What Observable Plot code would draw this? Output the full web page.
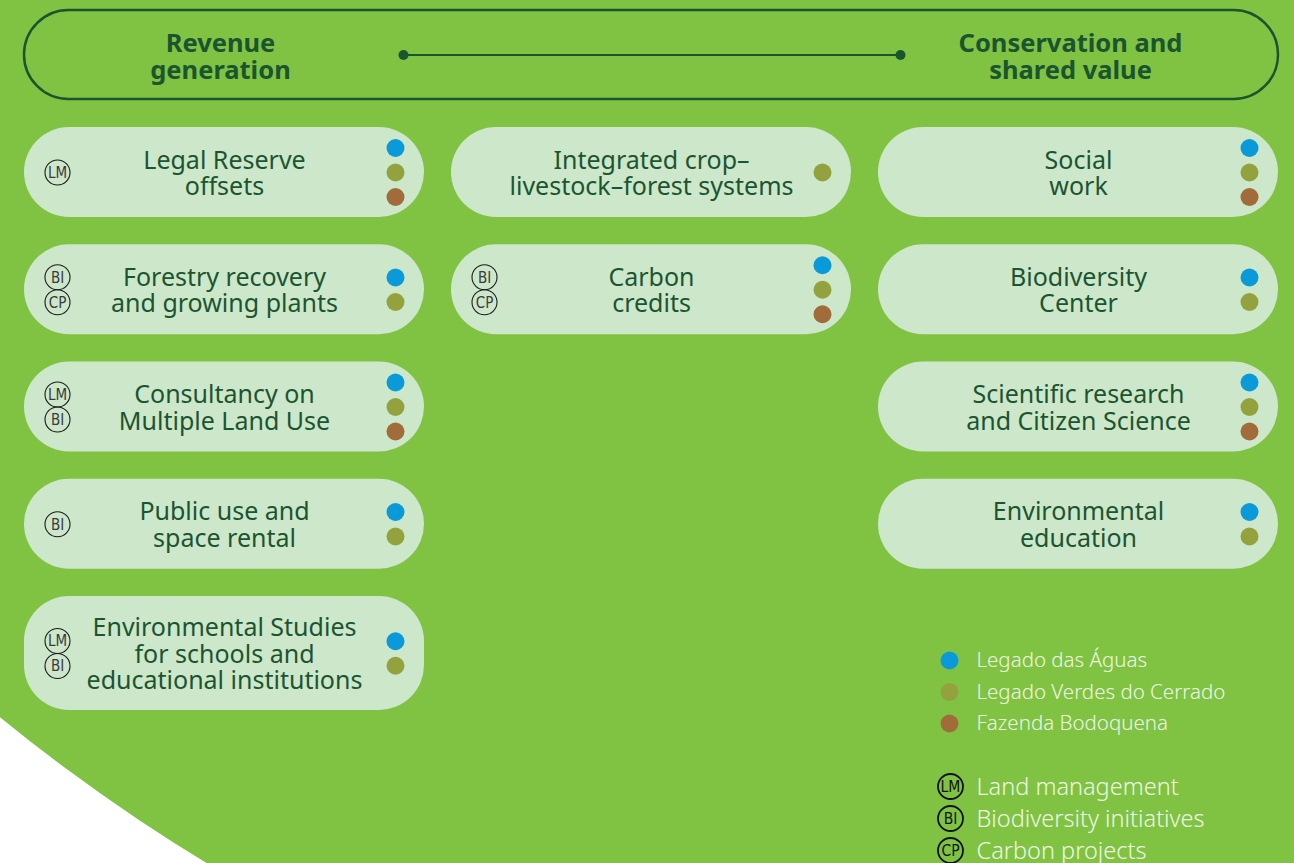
<!DOCTYPE html>
<html>
<head>
<meta charset="utf-8">
<script src="https://cdn.jsdelivr.net/npm/d3@7"></script>
<script src="https://cdn.jsdelivr.net/npm/@observablehq/plot@0.6"></script>
<style>
  html, body { margin: 0; padding: 0; background: #ffffff; }
  #chart svg { display: block; }
</style>
</head>
<body>
<div id="chart"></div>
<script>
// ---------- data ----------
const pillars = ["Revenue\ngeneration", "Conservation and\nshared value"];

const activities = [
  "Legal Reserve\noffsets",
  "Forestry recovery\nand growing plants",
  "Consultancy on\nMultiple Land Use",
  "Public use and\nspace rental",
  "Environmental Studies\nfor schools and\neducational institutions",
  "Integrated crop–\nlivestock–forest systems",
  "Carbon\ncredits",
  "Social\nwork",
  "Biodiversity\nCenter",
  "Scientific research\nand Citizen Science",
  "Environmental\neducation"
];
const activityColumn = [0, 0, 0, 0, 0, 1, 1, 2, 2, 2, 2];
const activityRow    = [0, 1, 2, 3, 4, 0, 1, 0, 1, 2, 3];

const units = ["Legado das Águas", "Legado Verdes do Cerrado", "Fazenda Bodoquena"];
const activityUnits = [
  ["Legado das Águas", "Legado Verdes do Cerrado", "Fazenda Bodoquena"],
  ["Legado das Águas", "Legado Verdes do Cerrado"],
  ["Legado das Águas", "Legado Verdes do Cerrado", "Fazenda Bodoquena"],
  ["Legado das Águas", "Legado Verdes do Cerrado"],
  ["Legado das Águas", "Legado Verdes do Cerrado"],
  ["Legado Verdes do Cerrado"],
  ["Legado das Águas", "Legado Verdes do Cerrado", "Fazenda Bodoquena"],
  ["Legado das Águas", "Legado Verdes do Cerrado", "Fazenda Bodoquena"],
  ["Legado das Águas", "Legado Verdes do Cerrado"],
  ["Legado das Águas", "Legado Verdes do Cerrado", "Fazenda Bodoquena"],
  ["Legado das Águas", "Legado Verdes do Cerrado"]
];

const themeCodes = ["LM", "BI", "CP"];
const themes = ["Land management", "Biodiversity initiatives", "Carbon projects"];
const activityThemes = [
  ["LM"], ["BI", "CP"], ["LM", "BI"], ["BI"], ["LM", "BI"],
  [], ["BI", "CP"], [], [], [], []
];

// ---------- styling / layout ----------
const W = 1294, H = 863;
const GREEN = "#80c342", DARK = "#1b5530", BOX = "#cde7cb";
const unitColors = ["#0a9ad9", "#93a23d", "#a26b3a"];
const FONT = "'Noto Sans', 'Open Sans', sans-serif";
const NARROW = "'Liberation Sans Narrow', 'DejaVu Sans Condensed', sans-serif";

const colX = c => 24 + c * 427;       // left edge of a column
const boxW = 400;
const rowY = r => 127 + r * 117.25;   // top edge of a row
const boxH = lines => lines > 2 ? 114 : 90;

const boxes = activities.map((label, i) => {
  const lines = label.split("\n").length;
  const x1 = colX(activityColumn[i]);
  const y1 = rowY(activityRow[i]);
  const h = boxH(lines);
  return {label, x1, x2: x1 + boxW, y1, y2: y1 + h, cx: x1 + boxW / 2, cy: y1 + h / 2};
});

const dots = boxes.flatMap((b, i) => activityUnits[i].map((u, k, arr) => ({
  unit: u, x: b.x1 + 371, y: b.cy + (k - (arr.length - 1) / 2) * 24.5
})));

const icons = boxes.flatMap((b, i) => activityThemes[i].map((t, k, arr) => ({
  code: t, x: b.x1 + 33, y: b.cy + (k - (arr.length - 1) / 2) * 25
})));

const header = {x1: 24, x2: 1278, y1: 10, y2: 99};
const headerY = 54.5;
const pillarX = [220, 1070];
const connector = [{x: 403, y: headerY}, {x: 900, y: headerY}];

const legendUnits = units.map((u, i) => ({label: u, x: 949, y: 660 + i * 31.5}));
const legendThemes = themes.map((t, i) => ({label: t, code: themeCodes[i], x: 950, y: 786 + i * 32}));

const chart = Plot.plot({
  width: W,
  height: H,
  margin: 0,
  x: {domain: [0, W], range: [0, W], axis: null},
  y: {domain: [0, H], range: [0, H], axis: null},
  color: {domain: units, range: unitColors},
  style: {background: "#ffffff", fontFamily: FONT},
  marks: [
    // green background shape (large disc with white lower-left corner)
    Plot.dot([{x: 1139, y: -678}], {x: "x", y: "y", r: 1801, fill: GREEN, stroke: null}),

    // header pill
    Plot.rect([header], {x1: "x1", x2: "x2", y1: "y1", y2: "y2", rx: 44.5,
      fill: "none", stroke: DARK, strokeWidth: 2.5}),
    Plot.line(connector, {x: "x", y: "y", stroke: DARK, strokeWidth: 2}),
    Plot.dot(connector, {x: "x", y: "y", r: 5, fill: DARK}),
    Plot.text(pillars, {x: (d, i) => pillarX[i], y: headerY + 2, text: d => d,
      fill: DARK, fontSize: 25.5, fontWeight: 700, lineHeight: 1.06, fontFamily: FONT}),

    // activity pills
    Plot.rect(boxes, {x1: "x1", x2: "x2", y1: "y1", y2: "y2", rx: 45, fill: BOX}),
    Plot.text(boxes, {x: "cx", y: d => d.cy + 1, text: "label", fill: DARK, fontSize: 25,
      lineHeight: 1.06, fontFamily: FONT}),

    // unit dots
    Plot.dot(dots, {x: "x", y: "y", r: 9, fill: "unit"}),

    // theme icons
    Plot.dot(icons, {x: "x", y: "y", r: 12.5, fill: "none", stroke: "#1a1a1a", strokeWidth: 1.1}),
    Plot.text(icons, {x: "x", y: "y", text: "code", fill: "#3a3a3a", fontSize: 15,
      fontFamily: NARROW, dy: 0.5}),

    // legend: units
    Plot.dot(legendUnits, {x: "x", y: "y", r: 9, fill: "label"}),
    Plot.text(legendUnits, {x: d => d.x + 27, y: "y", text: "label", textAnchor: "start",
      fill: "#eef6e6", fontSize: 20.5, fontWeight: 300, fontFamily: FONT}),

    // legend: themes
    Plot.dot(legendThemes, {x: "x", y: "y", r: 12.5, fill: "none", stroke: "#111", strokeWidth: 1.8}),
    Plot.text(legendThemes, {x: "x", y: "y", text: "code", fill: "#111", fontSize: 15.5,
      fontFamily: NARROW, dy: 0.5}),
    Plot.text(legendThemes, {x: d => d.x + 26, y: "y", text: "label", textAnchor: "start",
      fill: "#eef6e6", fontSize: 23.5, fontWeight: 300, fontFamily: FONT, dy: 1})
  ]
});

document.getElementById("chart").append(chart);
</script>
</body>
</html>
